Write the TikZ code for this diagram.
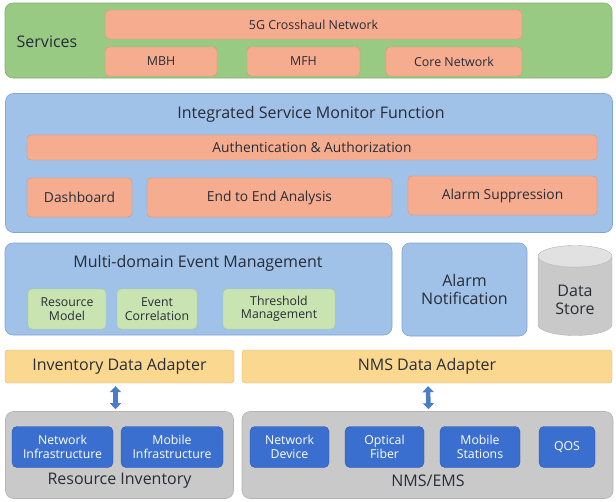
\documentclass[tikz,border=0pt]{standalone}
\usepackage{fontspec}
\setmainfont{Open Sans}
\usetikzlibrary{shapes.geometric,arrows.meta,positioning}

\definecolor{svcgreen}{RGB}{153,202,132}
\definecolor{svcgreenD}{RGB}{128,176,106}
\definecolor{salmon}{RGB}{246,172,142}
\definecolor{salmonD}{RGB}{226,142,112}
\definecolor{panelblue}{RGB}{160,193,232}
\definecolor{panelblueD}{RGB}{128,166,214}
\definecolor{mintgreen}{RGB}{201,228,176}
\definecolor{mintgreenD}{RGB}{166,206,136}
\definecolor{adaptyellow}{RGB}{251,216,143}
\definecolor{panelgrey}{RGB}{201,201,201}
\definecolor{panelgreyD}{RGB}{180,180,180}
\definecolor{deviceblue}{RGB}{58,111,208}
\definecolor{deviceblueD}{RGB}{40,86,176}
\definecolor{arrowblue}{RGB}{74,124,201}
\definecolor{inktext}{RGB}{40,45,55}

\begin{document}
\begin{tikzpicture}[x=1pt,y=-1pt, every node/.style={text=inktext},
  bigf/.style={font=\fontsize{16}{18}\selectfont},
  midf/.style={font=\fontsize{13.8}{15}\selectfont},
  smallf/.style={font=\fontsize{12.4}{14}\selectfont},
  tinyf/.style={font=\fontsize{12.3}{13.5}\selectfont},
  panel/.style={rounded corners=8pt, inner sep=0pt, line width=0.6pt},
  svcpanel/.style={panel, fill=svcgreen, draw=svcgreenD},
  bluepanel/.style={panel, fill=panelblue, draw=panelblueD},
  greypanel/.style={panel, fill=panelgrey, draw=panelgreyD},
  salmonbox/.style={rounded corners=4pt, fill=salmon, draw=salmonD, inner sep=0pt},
  mintbox/.style={rounded corners=4pt, fill=mintgreen, draw=mintgreenD, inner sep=0pt, align=center, tinyf},
  adaptbox/.style={rounded corners=3pt, fill=adaptyellow, draw=adaptyellow!85!black, inner sep=0pt, bigf},
  devbox/.style={rounded corners=5pt, fill=deviceblue, draw=deviceblueD, inner sep=0pt, align=center, text=white, tinyf},
  linkarrow/.style={draw=arrowblue, line width=4.5pt, {Triangle[width=11pt,length=6pt]}-{Triangle[width=11pt,length=6pt]}}
]
\useasboundingbox (0,0) rectangle (616,501);

% services
\node[svcpanel, minimum width=607, minimum height=75] (services) at (308.5,40.5) {};
\node[bigf] (servicesT) at (47,42) {Services};
\node[salmonbox, smallf, minimum width=417, minimum height=29] (crosshaul) at (313.5,24.5) {5G Crosshaul Network};
\node[salmonbox, smallf, minimum width=112, minimum height=29] (mbh) at (161,61.5) {MBH};
\node[salmonbox, smallf, minimum width=113, minimum height=29] (mfh) at (303.5,61.5) {MFH};
\node[salmonbox, smallf, minimum width=136, minimum height=29] (corenet) at (454,61.5) {Core Network};

% integrated service monitor
\node[bluepanel, minimum width=607, minimum height=139] (ismf) at (309,163) {};
\node[bigf] (ismfT) at (311,114) {Integrated Service Monitor Function};
\node[salmonbox, midf, minimum width=570, minimum height=25] (auth) at (312,147.5) {Authentication \& Authorization};
\node[salmonbox, midf, minimum width=105, minimum height=39] (dash) at (79.5,197.5) {Dashboard};
\node[salmonbox, midf, minimum width=245, minimum height=39] (etoe) at (269.5,197.5) {End to End Analysis};
\node[salmonbox, midf, minimum width=189, minimum height=39] (suppress) at (502.5,195.5) {Alarm Suppression};

% event management
\node[bluepanel, minimum width=387, minimum height=92] (mdem) at (198.5,289) {};
\node[bigf] (mdemT) at (198,263) {Multi-domain Event Management};
\node[mintbox, minimum width=78, minimum height=40] (resmodel) at (67,309) {Resource\\Model};
\node[mintbox, minimum width=80, minimum height=40] (evcorr) at (157,309) {Event\\Correlation};
\node[mintbox, minimum width=112, minimum height=40] (thresh) at (279,309) {Threshold\\Management};
\node[bluepanel, bigf, align=center, minimum width=125, minimum height=93] (alarmnot) at (464.5,289.5) {Alarm\\Notification};
\node[cylinder, shape border rotate=90, aspect=0.55, draw=panelgreyD, cylinder uses custom fill,
  cylinder body fill=panelgrey, cylinder end fill=panelgrey!55, bigf, align=center,
  minimum width=74, minimum height=90, inner sep=0pt] (store) at (575,296) {\rule{0pt}{20pt}Data\\Store};

% adapters
\node[adaptbox, minimum width=229, minimum height=33] (invadapt) at (119.5,366.5) {Inventory Data Adapter};
\node[adaptbox, minimum width=370, minimum height=33] (nmsadapt) at (427,366.5) {NMS Data Adapter};

% resource inventory
\node[greypanel, minimum width=228, minimum height=87] (resinv) at (119.5,455) {};
\node[bigf] (resinvT) at (119.5,481) {Resource Inventory};
\node[devbox, minimum width=101, minimum height=41] (netinfra) at (62.5,447) {Network\\Infrastructure};
\node[devbox, minimum width=102, minimum height=41] (mobinfra) at (172,447) {Mobile\\Infrastructure};

% nms/ems
\node[greypanel, minimum width=371, minimum height=87] (nmsems) at (427.5,455) {};
\node[bigf] (nmsemsT) at (428,481) {NMS/EMS};
\node[devbox, minimum width=79, minimum height=41] (netdev) at (289.5,447) {Network\\Device};
\node[devbox, minimum width=79, minimum height=41] (optfiber) at (384.5,447) {Optical\\Fiber};
\node[devbox, minimum width=80, minimum height=41] (mobstat) at (480,447) {Mobile\\Stations};
\node[devbox, minimum width=56, minimum height=41] (qos) at (567,447) {QOS};

% adapter links
\draw[linkarrow, shorten <=3pt, shorten >=2pt] ([xshift=-4pt]invadapt.south) -- ([xshift=-4pt]resinv.north);
\draw[linkarrow, shorten <=3pt, shorten >=2pt] ([xshift=1pt]nmsadapt.south) -- ([xshift=1pt]nmsems.north);
\end{tikzpicture}
\end{document}
